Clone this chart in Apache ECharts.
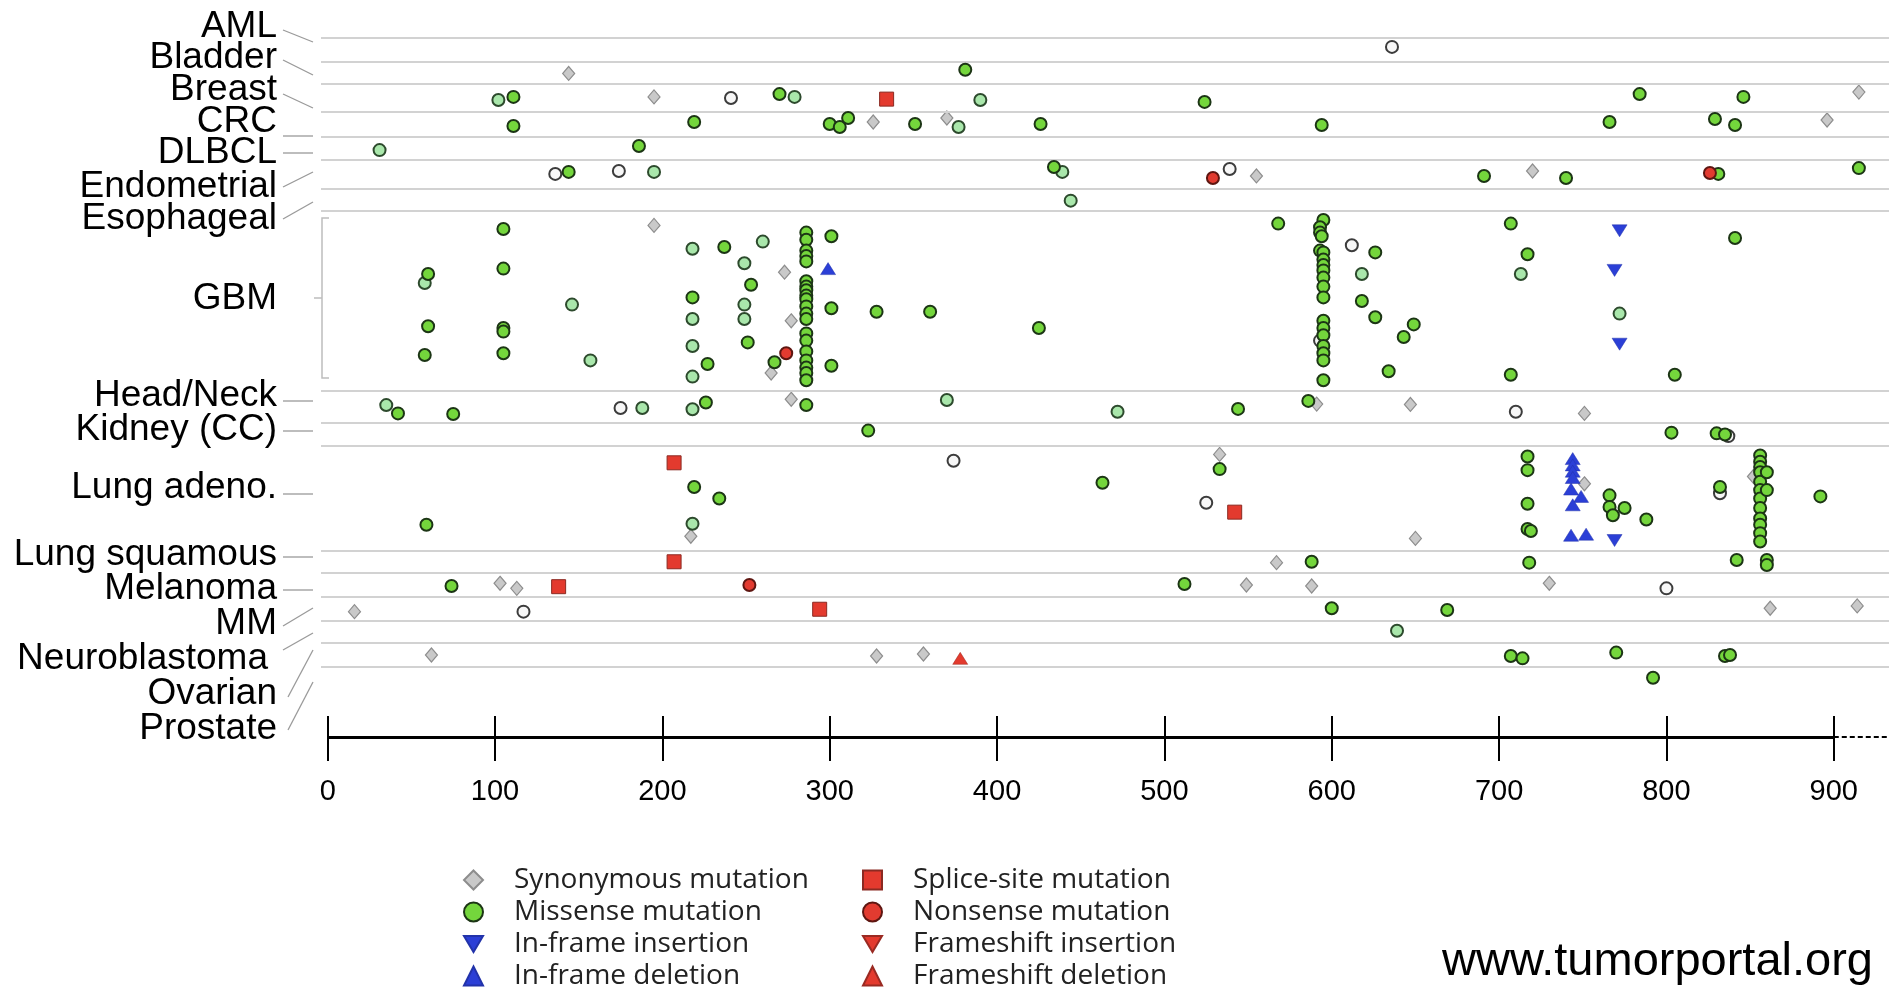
<!DOCTYPE html>
<html>
<head>
<meta charset="utf-8">
<script src="https://cdn.jsdelivr.net/npm/echarts@6/dist/echarts.min.js"></script>
<style>
  html, body { margin: 0; padding: 0; background: #fff; }
  #chart { width: 1889px; height: 990px; }
</style>
</head>
<body>
<div id="chart"></div>
<script>
// cancer types, top to bottom
const cancers = ['AML', 'Bladder', 'Breast', 'CRC', 'DLBCL', 'Endometrial', 'Esophageal', 'GBM',
  'Head/Neck', 'Kidney (CC)', 'Lung adeno.', 'Lung squamous', 'Melanoma', 'MM', 'Neuroblastoma',
  'Ovarian', 'Prostate'];

const tickValues = [0, 100, 200, 300, 400, 500, 600, 700, 800, 900];
const tickLabels = ['0', '100', '200', '300', '400', '500', '600', '700', '800', '900'];

// mutation kinds: syn, mis (missense), pal / opn (lighter missense shades), spl, non, ins, del, fsi, fsd
// each record: [protein position, place inside the row 0..1 (top..bottom), kind]
const aml = [[636, .37, 'opn']];
const bladder = [[144, .52, 'syn'], [381, .35, 'mis']];
const breast = [[102, .57, 'pal'], [111, .46, 'mis'], [195, .46, 'syn'], [241, .5, 'opn'], [270, .36, 'mis'],
  [279, .46, 'pal'], [334, .54, 'spl'], [390, .57, 'pal'], [524, .64, 'mis'], [784, .36, 'mis'],
  [846, .46, 'mis'], [915, .29, 'syn']];
const crc = [[111, .56, 'mis'], [219, .4, 'mis'], [300, .48, 'mis'], [306, .6, 'mis'], [311, .24, 'mis'],
  [326, .4, 'syn'], [351, .48, 'mis'], [370, .24, 'syn'], [377, .6, 'pal'], [426, .48, 'mis'],
  [594, .52, 'mis'], [766, .4, 'mis'], [829, .28, 'mis'], [841, .52, 'mis'], [896, .32, 'syn']];
const dlbcl = [[31, .57, 'pal'], [186, .39, 'mis']];
const endometrial = [[136, .48, 'opn'], [144, .41, 'mis'], [174, .38, 'opn'], [195, .41, 'pal'],
  [434, .24, 'mis'], [439, .41, 'pal'], [529, .62, 'non'], [539, .31, 'opn'], [555, .55, 'syn'],
  [691, .55, 'mis'], [720, .38, 'syn'], [740, .62, 'mis'], [826, .45, 'non'], [831, .48, 'mis'],
  [915, .28, 'mis']];
const esophageal = [[444, .53, 'pal']];
const gbm = [[60, .35, 'mis'], [58, .40, 'pal'], [60, .64, 'mis'], [58, .80, 'mis'],
  [105, .10, 'mis'], [105, .32, 'mis'], [105, .65, 'mis'], [105, .67, 'mis'], [105, .79, 'mis'],
  [146, .52, 'pal'], [157, .83, 'pal'], [195, .08, 'syn'],
  [218, .21, 'pal'], [218, .48, 'mis'], [218, .60, 'pal'], [218, .75, 'pal'], [218, .92, 'pal'],
  [227, .85, 'mis'], [237, .20, 'mis'], [260, .17, 'pal'], [249, .29, 'pal'], [273, .34, 'syn'],
  [253, .41, 'mis'], [249, .52, 'pal'], [249, .60, 'pal'], [277, .61, 'syn'], [251, .73, 'mis'],
  [274, .79, 'non'], [267, .84, 'mis'], [265, .90, 'syn'],
  [286, .12, 'mis'], [286, .16, 'mis'], [286, .22, 'mis'], [286, .25, 'mis'], [286, .28, 'mis'],
  [286, .39, 'mis'], [286, .42, 'mis'], [286, .44, 'mis'], [286, .47, 'mis'], [286, .49, 'mis'],
  [286, .53, 'mis'], [286, .57, 'mis'], [286, .60, 'mis'], [286, .68, 'mis'], [286, .72, 'mis'],
  [286, .78, 'mis'], [286, .83, 'mis'], [286, .87, 'mis'], [286, .90, 'mis'], [286, .94, 'mis'],
  [301, .14, 'mis'], [299, .32, 'del'], [301, .54, 'mis'], [301, .86, 'mis'], [328, .56, 'mis'],
  [360, .56, 'mis'], [425, .65, 'mis'], [568, .07, 'mis'],
  [595, .05, 'mis'], [593, .09, 'mis'], [593, .12, 'mis'], [594, .14, 'mis'], [593, .22, 'mis'],
  [595, .23, 'mis'], [595, .27, 'mis'], [595, .30, 'mis'], [595, .33, 'mis'], [595, .37, 'mis'],
  [595, .42, 'mis'], [595, .48, 'mis'], [595, .61, 'mis'], [595, .65, 'mis'], [595, .69, 'mis'],
  [593, .72, 'opn'], [595, .75, 'mis'], [595, .79, 'mis'], [595, .83, 'mis'], [595, .94, 'mis'],
  [612, .19, 'opn'], [626, .23, 'mis'], [618, .35, 'pal'], [618, .50, 'mis'], [626, .59, 'mis'],
  [649, .63, 'mis'], [643, .70, 'mis'], [634, .89, 'mis'],
  [707, .07, 'mis'], [717, .24, 'mis'], [713, .35, 'pal'], [772, .11, 'ins'], [769, .33, 'ins'],
  [772, .57, 'pal'], [772, .74, 'ins'], [707, .91, 'mis'], [805, .91, 'mis'], [841, .15, 'mis']];
const headNeck = [[35, .44, 'pal'], [42, .70, 'mis'], [75, .72, 'mis'], [175, .53, 'opn'], [188, .53, 'pal'],
  [218, .57, 'pal'], [226, .36, 'mis'], [277, .26, 'syn'], [286, .44, 'mis'], [370, .28, 'pal'],
  [472, .65, 'pal'], [544, .56, 'mis'], [586, .31, 'mis'], [591, .41, 'syn'], [647, .42, 'syn'],
  [710, .65, 'opn'], [751, .70, 'syn']];
const kidney = [[323, .33, 'mis'], [803, .42, 'mis'], [830, .45, 'mis'], [835, .5, 'mis'], [837, .57, 'opn']];
const lungAdeno = [[207, .16, 'spl'], [219, .39, 'mis'], [59, .75, 'mis'], [218, .74, 'pal'], [217, .86, 'syn'],
  [234, .50, 'mis'], [374, .14, 'opn'], [463, .35, 'mis'], [533, .08, 'syn'], [533, .22, 'mis'],
  [525, .54, 'opn'], [542, .63, 'spl'],
  [717, .10, 'mis'], [717, .23, 'mis'], [717, .55, 'mis'], [717, .79, 'mis'], [719, .81, 'mis'], [650, .88, 'syn'],
  [744, .12, 'del'], [744, .18, 'del'], [744, .24, 'del'], [744, .30, 'del'], [743, .41, 'del'],
  [749, .48, 'del'], [744, .56, 'del'], [743, .85, 'del'], [752, .84, 'del'],
  [751, .36, 'syn'], [766, .47, 'mis'], [766, .58, 'mis'], [775, .59, 'mis'], [768, .66, 'mis'],
  [788, .70, 'mis'], [769, .90, 'ins'], [832, .45, 'opn'], [832, .39, 'mis'], [852, .29, 'syn'],
  [856, .09, 'mis'], [856, .15, 'mis'], [856, .20, 'mis'], [856, .25, 'mis'], [856, .34, 'mis'],
  [856, .42, 'mis'], [856, .50, 'mis'], [856, .59, 'mis'], [856, .69, 'mis'], [856, .75, 'mis'],
  [856, .83, 'mis'], [856, .91, 'mis'], [860, .25, 'mis'], [860, .42, 'mis'], [892, .48, 'mis']];
const lungSquamous = [[207, .49, 'spl'], [567, .53, 'syn'], [588, .49, 'mis'], [718, .53, 'mis'],
  [842, .41, 'mis'], [860, .41, 'mis'], [860, .64, 'mis']];
const melanoma = [[74, .54, 'mis'], [103, .43, 'syn'], [113, .64, 'syn'], [138, .57, 'spl'], [252, .5, 'non'],
  [512, .46, 'mis'], [549, .5, 'syn'], [588, .54, 'syn'], [730, .43, 'syn'], [800, .64, 'opn']];
const mm = [[16, .61, 'syn'], [117, .61, 'opn'], [294, .51, 'spl'], [600, .47, 'mis'], [669, .54, 'mis'],
  [862, .47, 'syn'], [914, .37, 'syn']];
const neuroblastoma = [[639, .44, 'pal']];
const ovarian = [[62, .5, 'syn'], [328, .54, 'syn'], [356, .46, 'syn'], [378, .64, 'fsd'], [707, .54, 'mis'],
  [714, .64, 'mis'], [770, .40, 'mis'], [835, .54, 'mis'], [838, .5, 'mis']];
const prostate = [[792, .47, 'mis']];

const rows = [aml, bladder, breast, crc, dlbcl, endometrial, esophageal, gbm, headNeck, kidney,
  lungAdeno, lungSquamous, melanoma, mm, neuroblastoma, ovarian, prostate];

const leftLegend = ['Synonymous mutation', 'Missense mutation', 'In-frame insertion', 'In-frame deletion'];
const rightLegend = ['Splice-site mutation', 'Nonsense mutation', 'Frameshift insertion', 'Frameshift deletion'];

// ---- layout (pixels) ----
const GRID_TOP = 38, AXIS_Y = 737;
const AXIS_U = AXIS_Y - GRID_TOP;  // axis line in y units (1 unit = 1 px)
const rowEdges = [38, 62, 84, 112, 137, 160, 189, 211, 391, 423, 446, 551, 573, 597, 621, 643, 667, 690];
const labelY = [27, 58, 90, 122, 153, 187, 219, 299, 396, 430, 488, 555, 589, 624, 659, 694, 729];
const leaders = [[30, 42], [60, 75], [94, 108], [136, 136], [153, 153], [187, 172], [219, 202], null,
  [401, 401], [431, 431], [494, 494], [557, 557], [590, 590], [626, 608], [650, 633], [697, 650], [730, 682]];

const DOWN_TRI = 'path://M0,0 L20,0 L10,17 Z';

const looks = {
  syn: { name: 'Synonymous mutation', symbol: 'diamond', size: [12, 14], fill: '#c9c9c9', line: '#8d8d8d', w: 1.2 },
  opn: { name: 'Missense (open)', symbol: 'circle', size: 12, fill: '#f7f7f7', line: '#3c3c3c', w: 2 },
  pal: { name: 'Missense (light)', symbol: 'circle', size: 12, fill: '#a9e7ab', line: '#2d4a2d', w: 2 },
  mis: { name: 'Missense mutation', symbol: 'circle', size: 12, fill: '#74d63c', line: '#1c3515', w: 2 },
  spl: { name: 'Splice-site mutation', symbol: 'rect', size: 14, fill: '#e33a2e', line: '#8b2a22', w: 1 },
  non: { name: 'Nonsense mutation', symbol: 'circle', size: 12, fill: '#e23b30', line: '#5e1611', w: 2 },
  ins: { name: 'In-frame insertion', symbol: DOWN_TRI, size: [15, 12], fill: '#2b3fd6', line: '#2233aa', w: 0.5 },
  del: { name: 'In-frame deletion', symbol: 'triangle', size: [15, 12], fill: '#2b3fd6', line: '#2233aa', w: 0.5 },
  fsi: { name: 'Frameshift insertion', symbol: DOWN_TRI, size: [15, 12], fill: '#e33a2e', line: '#9a2a22', w: 0.5 },
  fsd: { name: 'Frameshift deletion', symbol: 'triangle', size: [15, 12], fill: '#e33a2e', line: '#9a2a22', w: 0.5 }
};

function pointsOf(kind) {
  const out = [];
  rows.forEach((row, r) => {
    const top = rowEdges[r] - GRID_TOP, h = rowEdges[r + 1] - rowEdges[r];
    row.forEach(p => { if (p[2] === kind) out.push([p[0], top + p[1] * h]); });
  });
  return out;
}

const chart = echarts.init(document.getElementById('chart'));

const black = { color: '#000', width: 2, type: 'solid' };
const lineData = rowEdges.slice(0, -1).map(e => ({ yAxis: e - GRID_TOP }))
  .concat([
    [{ coord: [0, AXIS_U], lineStyle: { color: '#000', width: 3, type: 'solid' } }, { coord: [900, AXIS_U] }],
    [{ coord: [900, AXIS_U], lineStyle: { color: '#000', width: 2, type: [5, 3] } }, { coord: [933, AXIS_U] }]
  ])
  // upper half of each tick
  .concat(tickValues.map(v => [{ coord: [v, AXIS_U - 21], lineStyle: black }, { coord: [v, AXIS_U] }]));

const series = [{
  type: 'scatter', data: [], z: 1, silent: true, clip: false,
  markLine: {
    silent: true, symbol: 'none', label: { show: false }, animation: false,
    lineStyle: { color: '#d2d2d2', width: 2, type: 'solid' },
    data: lineData
  }
}];

['syn', 'opn', 'pal', 'mis', 'spl', 'non', 'ins', 'del', 'fsi', 'fsd'].forEach((k, i) => {
  const s = looks[k];
  series.push({
    name: s.name, type: 'scatter', z: 2 + i,
    symbol: s.symbol, symbolSize: s.size,
    itemStyle: { color: s.fill, borderColor: s.line, borderWidth: s.w, opacity: 1 },
    data: pointsOf(k)
  });
});

const graphics = [];
cancers.forEach((c, r) => {
  graphics.push({
    type: 'text', silent: true,
    style: {
      text: c, x: c === 'Neuroblastoma' ? 268 : 277, y: labelY[r],
      textAlign: 'right', textVerticalAlign: 'middle',
      fontFamily: 'Liberation Sans', fontSize: 37, fill: '#000'
    }
  });
  const l = leaders[r];
  if (l) {
    const x1 = r >= 15 ? 288 : 283;
    graphics.push({
      type: 'line', silent: true,
      shape: { x1: x1, y1: l[0], x2: 313, y2: l[1] },
      style: { stroke: '#9a9a9a', lineWidth: 1.3 }
    });
  }
});
// GBM bracket
graphics.push({
  type: 'polyline', silent: true,
  shape: { points: [[329, 218], [322, 218], [322, 378], [329, 378]] },
  style: { stroke: '#bdbdbd', lineWidth: 1.5, fill: null }
});
graphics.push({
  type: 'line', silent: true,
  shape: { x1: 314, y1: 298, x2: 322, y2: 298 },
  style: { stroke: '#bdbdbd', lineWidth: 1.5 }
});
graphics.push({
  type: 'text', silent: true,
  style: {
    text: 'www.tumorportal.org', x: 1873, y: 962, textAlign: 'right', textVerticalAlign: 'middle',
    fontFamily: 'Liberation Sans', fontSize: 47, fill: '#000'
  }
});

const legendBase = {
  orient: 'vertical', top: 866, height: 124, padding: 0,
  itemWidth: 19, itemHeight: 19, itemGap: 4,
  selectedMode: false,
  textStyle: { fontFamily: 'Open Sans', fontSize: 28, lineHeight: 28, color: '#222', padding: [0, 0, 0, 26] }
};

function legendItems(names) {
  return names.map(n => (n.indexOf('insertion') >= 0 ? { name: n, icon: DOWN_TRI } : { name: n }));
}

chart.setOption({
  animation: false,
  backgroundColor: '#fff',
  grid: { left: 321, right: 0, top: GRID_TOP, height: AXIS_U },
  xAxis: {
    type: 'value', min: -4, max: 933, position: 'bottom',
    axisLine: { show: false, onZero: false }, splitLine: { show: false },
    axisTick: { show: true, inside: false, length: 24, customValues: tickValues, lineStyle: { color: '#000', width: 2 } },
    axisLabel: {
      show: true, customValues: tickValues, margin: 40,
      fontFamily: 'Liberation Sans', fontSize: 29, color: '#000',
      formatter: v => tickLabels[tickValues.indexOf(v)]
    }
  },
  yAxis: {
    type: 'value', min: 0, max: AXIS_U, inverse: true, show: false
  },
  legend: [
    Object.assign({}, legendBase, { left: 463, data: legendItems(leftLegend) }),
    Object.assign({}, legendBase, { left: 862, data: legendItems(rightLegend) })
  ],
  graphic: graphics,
  series: series
});
</script>
</body>
</html>
